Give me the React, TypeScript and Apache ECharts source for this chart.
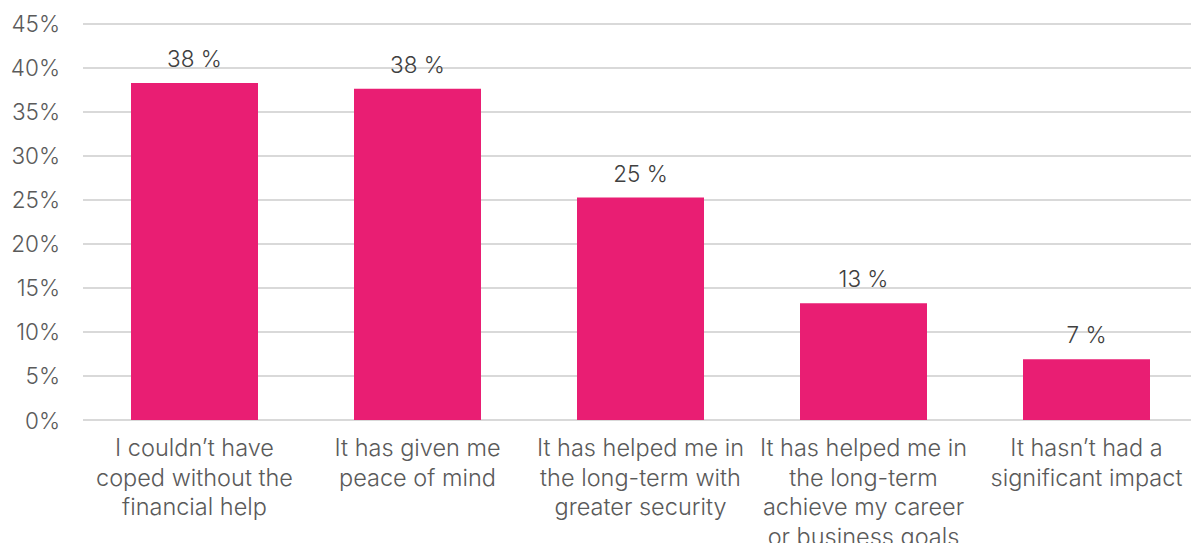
import React, { useEffect, useRef } from "react";
import * as echarts from "echarts";

const categories = [
  "I couldn’t have\ncoped without the\nfinancial help",
  "It has given me\npeace of mind",
  "It has helped me in\nthe long-term with\ngreater security",
  "It has helped me in\nthe long-term\nachieve my career\nor business goals",
  "It hasn’t had a\nsignificant impact",
];
const values = [38.25, 37.6, 25.25, 13.25, 6.9];
const valueLabels = ["38 %", "38 %", "25 %", "13 %", "7 %"];

export default function App() {
  const ref = useRef<HTMLDivElement>(null);
  useEffect(() => {
    if (!ref.current) return;
    const chart = echarts.init(ref.current, undefined, { renderer: "svg" });
    chart.setOption({
      animation: false,
      grid: {
        left: 83,
        top: 23.5,
        bottom: 123,
        width: 1115,
        containLabel: false,
        outerBoundsMode: "none",
      },
      xAxis: {
        type: "category",
        data: categories,
        axisLine: { show: false },
        axisTick: { show: false },
        axisLabel: {
          interval: 0,
          margin: 13,
          color: "#5a5a5a",
          fontFamily: "Inter",
          fontWeight: 300,
          fontSize: 23.5,
          lineHeight: 29.5,
          hideOverlap: false,
        },
      },
      yAxis: {
        type: "value",
        min: 0,
        max: 45,
        interval: 5,
        axisLine: { show: false },
        axisTick: { show: false },
        axisLabel: {
          formatter: "{value}%",
          margin: 23,
          color: "#5a5a5a",
          fontFamily: "Inter",
          fontWeight: 300,
          fontSize: 22.5,
        },
        splitLine: { lineStyle: { color: "#d9d9d9", width: 2 } },
      },
      series: [
        {
          type: "bar",
          data: values,
          barWidth: 127,
          itemStyle: { color: "#E91E73" },
          label: {
            show: true,
            position: "top",
            distance: 13,
            color: "#404040",
            fontFamily: "Inter",
            fontWeight: 300,
            fontSize: 22.5,
            formatter: (p: any) => valueLabels[p.dataIndex],
          },
        },
      ],
    });
    return () => chart.dispose();
  }, []);
  return <div ref={ref} style={{ width: 1191, height: 543, position: "absolute", left: 0, top: 0 }} />;
}
